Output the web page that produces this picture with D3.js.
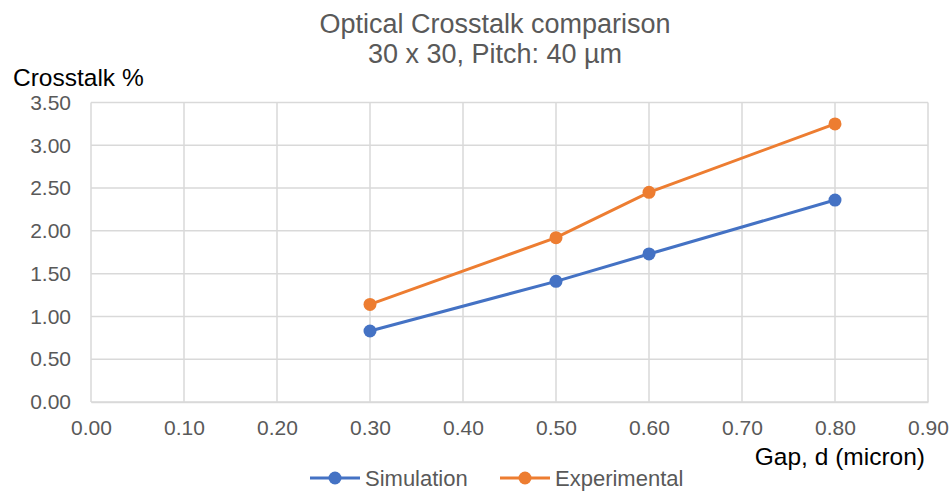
<!DOCTYPE html>
<html>
<head>
<meta charset="utf-8">
<script src="https://cdn.jsdelivr.net/npm/d3@7"></script>
<style>
  html, body { margin: 0; padding: 0; background: #fff; }
  svg { display: block; font-family: "Liberation Sans", Arial, sans-serif; }
</style>
</head>
<body>
<svg id="chart" width="952" height="492"></svg>
<script>
// Gap values (micron) and crosstalk percentages
const gaps = [0.3, 0.5, 0.6, 0.8];
const simulation = [0.83, 1.41, 1.73, 2.36];
const experimental = [1.14, 1.92, 2.45, 3.25];
const xTicks = [0, 0.1, 0.2, 0.3, 0.4, 0.5, 0.6, 0.7, 0.8, 0.9];
const yTicks = [0, 0.5, 1, 1.5, 2, 2.5, 3, 3.5];
const seriesNames = ["Simulation", "Experimental"];
const seriesColors = ["#4472C4", "#ED7D31"];

const svg = d3.select("#chart");
const x = d3.scaleLinear().domain([0, 0.9]).range([91, 928]);
const y = d3.scaleLinear().domain([0, 3.5]).range([402, 102.5]);
const font = "'Liberation Sans', Arial, sans-serif";

// Gridlines
svg.append("g").selectAll("line").data(xTicks).join("line")
  .attr("x1", d => x(d)).attr("x2", d => x(d))
  .attr("y1", y(0)).attr("y2", y(3.5))
  .attr("stroke", "#D9D9D9").attr("stroke-width", 1.5);
svg.append("g").selectAll("line").data(yTicks).join("line")
  .attr("x1", x(0)).attr("x2", x(0.9))
  .attr("y1", d => y(d)).attr("y2", d => y(d))
  .attr("stroke", "#D9D9D9").attr("stroke-width", 1.5);

// Axes
const xAxis = d3.axisBottom(x).tickValues(xTicks).tickFormat(d3.format(".2f")).tickSize(0).tickPadding(18);
const yAxis = d3.axisLeft(y).tickValues(yTicks).tickFormat(d3.format(".2f")).tickSize(0).tickPadding(20);
const gx = svg.append("g").attr("transform", `translate(0,${y(0)})`).call(xAxis);
const gy = svg.append("g").attr("transform", `translate(${x(0)},0)`).call(yAxis);
[gx, gy].forEach(g => {
  g.select(".domain").attr("stroke", "#D9D9D9").attr("stroke-width", 1.5);
  g.selectAll("text").attr("fill", "#595959").style("font-size", "21px")
    .style("font-family", font);
});
gy.select(".domain").remove();

// Series lines and markers
const lineGen = d3.line().x(d => x(d[0])).y(d => y(d[1]));
[simulation, experimental].forEach((vals, i) => {
  const pts = gaps.map((g, j) => [g, vals[j]]);
  svg.append("path").datum(pts)
    .attr("d", lineGen).attr("fill", "none")
    .attr("stroke", seriesColors[i]).attr("stroke-width", 3);
  svg.append("g").selectAll("circle").data(pts).join("circle")
    .attr("cx", d => x(d[0])).attr("cy", d => y(d[1])).attr("r", 6.5)
    .attr("fill", seriesColors[i]);
});

// Title
svg.append("text").attr("x", 495).attr("y", 33).attr("text-anchor", "middle")
  .attr("fill", "#595959").style("font-size", "27px").text("Optical Crosstalk comparison");
svg.append("text").attr("x", 495).attr("y", 63).attr("text-anchor", "middle")
  .attr("fill", "#595959").style("font-size", "27px").text("30 x 30, Pitch: 40 µm");

// Axis titles
svg.append("text").attr("x", 13).attr("y", 86)
  .attr("fill", "#000").style("font-size", "24.5px").text("Crosstalk %");
svg.append("text").attr("x", 925).attr("y", 465).attr("text-anchor", "end")
  .attr("fill", "#000").style("font-size", "24.5px").text("Gap, d (micron)");

// Legend
const legendX = [310, 500];
seriesNames.forEach((name, i) => {
  const g = svg.append("g").attr("transform", `translate(${legendX[i]},478)`);
  g.append("line").attr("x1", 0).attr("x2", 50).attr("y1", 0).attr("y2", 0)
    .attr("stroke", seriesColors[i]).attr("stroke-width", 3);
  g.append("circle").attr("cx", 25).attr("cy", 0).attr("r", 6.5).attr("fill", seriesColors[i]);
  g.append("text").attr("x", 55).attr("y", 8).attr("fill", "#595959")
    .style("font-size", "22px").text(name);
});
</script>
</body>
</html>
